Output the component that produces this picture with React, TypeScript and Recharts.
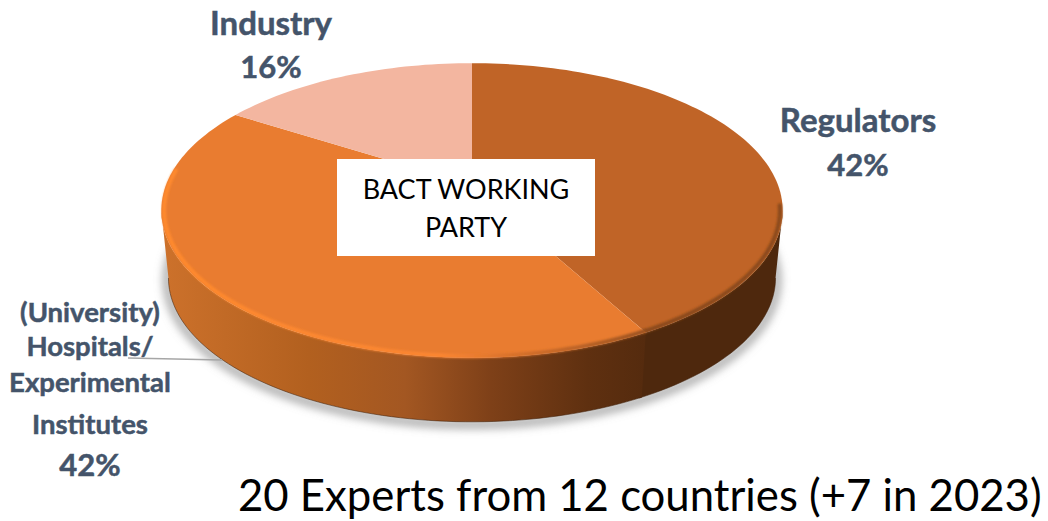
import React from "react";
import { PieChart, Pie } from "recharts";

// Membership of the working party, clockwise from twelve o'clock.
const categories = ["Regulators", "Hospitals", "Industry"];
const shares = [42, 42, 16];
const categoryLines = [
  ["Regulators"],
  ["(University)", "Hospitals/", "Experimental", "Institutes"],
  ["Industry"],
];
const topColors = ["#c06427", "#e97c30", "#f3b6a0"];
const centreLines = ["BACT WORKING", "PARTY"];
const footnote = "20 Experts from 12 countries (+7 in 2023)";

const WIDTH = 1048;
const HEIGHT = 521;
const FONT = "Lato, Carlito, sans-serif";
const LABEL_COLOR = "#44546a";

// Disc projection: a circle of radius R seen in perspective.
const CX = 472;
const CY = 185;
const RADIUS = 306;
const TILT = 0.467;
const PERSPECTIVE = 0.173;
const FLOOR_DROP = 68;
const FLOOR_SCALE = 0.977;
// The side wall runs between the points where the disc's outline is widest.
const WALL_FROM = 100;
const WALL_TO = 260;
const RIM_FROM = 98;
const RIM_TO = 276;
const SHADOW_FROM = 85;
const SHADOW_TO = 272;

type Pt = [number, number];

const project = (cx: number, cy: number, r: number, deg: number, scale = 1): Pt => {
  const t = (deg * Math.PI) / 180;
  const d = 1 + PERSPECTIVE * Math.cos(t);
  return [cx + (r * scale * Math.sin(t)) / d, cy - (r * TILT * scale * Math.cos(t)) / d];
};

const arc = (from: number, to: number, at: (deg: number) => Pt): Pt[] => {
  const n = Math.max(2, Math.ceil(Math.abs(to - from) / 1.5));
  return Array.from({ length: n + 1 }, (_, i) => at(from + ((to - from) * i) / n));
};

const toPath = (pts: Pt[], close = false) =>
  pts.map((p, i) => `${i ? "L" : "M"}${p[0].toFixed(2)} ${p[1].toFixed(2)}`).join(" ") + (close ? " Z" : "");

// Recharts measures angles anticlockwise from three o'clock; the projection runs clockwise from the top.
const clockwise = (angle: number) => 90 - angle;

const TopSlice = (props: any) => {
  const { cx, cy, outerRadius, startAngle, endAngle, fill, index } = props;
  const a = clockwise(startAngle);
  const b = clockwise(endAngle);
  const outline = [[cx, cy] as Pt, ...arc(a, b, (d) => project(cx, cy, outerRadius, d))];
  const from = Math.max(a, RIM_FROM);
  const to = Math.min(b, RIM_TO);
  const rim = to > from ? arc(from, to, (d) => project(cx, cy, outerRadius, d, 0.991)) : null;
  return (
    <g>
      <path d={toPath(outline, true)} fill={fill} />
      {rim && (
        <path
          d={toPath(rim)}
          fill="none"
          stroke={index === 0 ? "#8a4a1c" : "url(#rimLight)"}
          strokeWidth={4}
          strokeLinecap="round"
          filter="url(#soft)"
        />
      )}
    </g>
  );
};

const wallOutline = (cx: number, cy: number, r: number, a: number, b: number) => {
  const from = Math.max(a, WALL_FROM);
  const to = Math.min(b, WALL_TO);
  if (to <= from) return null;
  const upper = arc(from, to, (d) => project(cx, cy, r, d));
  const lower = arc(to, from, (d) => project(cx, cy + FLOOR_DROP, r, d, FLOOR_SCALE));
  return { upper, lower };
};

const WallSlice = (props: any) => {
  const { cx, cy, outerRadius, startAngle, endAngle, index } = props;
  // The first wall runs a touch under its neighbour so no hairline shows at the join.
  const overlap = index === 0 ? 0.5 : 0;
  const w = wallOutline(cx, cy, outerRadius, clockwise(startAngle), clockwise(endAngle) + overlap);
  // The ground shadow goes in once, behind every wall, along the floor edge.
  const shadow =
    index === 0
      ? arc(SHADOW_FROM, SHADOW_TO, (d) => project(cx, cy + FLOOR_DROP + 2, outerRadius, d, FLOOR_SCALE + 0.004))
      : null;
  return (
    <g>
      {shadow && (
        <path
          d={toPath(shadow)}
          fill="none"
          stroke="#8c8c8c"
          strokeWidth={9}
          strokeOpacity={0.7}
          filter="url(#shadowBlur)"
        />
      )}
      {w && (
        <>
          <path d={toPath([...w.upper, ...w.lower], true)} fill={index === 0 ? "#4e280d" : "url(#wallFront)"} />
          <path d={toPath(w.lower)} fill="none" stroke="#3f1f08" strokeWidth={1} strokeOpacity={0.55} />
        </>
      )}
    </g>
  );
};

// Where each category's label sits: centre x, then one baseline per line, then the percentage.
const labelSpots = [
  { x: 858, baselines: [132], percent: 176, size: 33 },
  { x: 90, baselines: [322, 356, 392, 434], percent: 476, size: 27.5 },
  { x: 271, baselines: [35], percent: 78, size: 33 },
];

const renderLabel = ({ index }: any) => {
  const spot = labelSpots[index];
  return (
    <g
      key={categories[index]}
      fontFamily={FONT}
      fontWeight={700}
      fill={LABEL_COLOR}
      stroke={LABEL_COLOR}
      strokeWidth={0.5}
      textAnchor="middle"
    >
      {categoryLines[index].map((line, i) => (
        <text key={line} x={spot.x} y={spot.baselines[i]} fontSize={spot.size}>
          {line}
        </text>
      ))}
      <text x={spot.x} y={spot.percent} fontSize={31}>{`${shares[index]}%`}</text>
    </g>
  );
};

const rows = categories.map((name, i) => ({ name, value: shares[i], fill: topColors[i] }));

const layer = {
  data: rows,
  dataKey: "value",
  nameKey: "name",
  cx: CX,
  cy: CY,
  outerRadius: RADIUS,
  startAngle: 90,
  endAngle: -270,
  stroke: "none",
  isAnimationActive: false,
};

export default function App() {
  return (
    <div style={{ position: "absolute", left: 0, top: 0, width: WIDTH, height: HEIGHT, background: "#fff" }}>
      <PieChart width={WIDTH} height={HEIGHT} margin={{ top: 0, right: 0, bottom: 0, left: 0 }}>
        <defs>
          <filter id="soft" filterUnits="userSpaceOnUse" x="100" y="0" width="760" height="460">
            <feGaussianBlur stdDeviation="1.3" />
          </filter>
          <filter id="shadowBlur" filterUnits="userSpaceOnUse" x="100" y="100" width="760" height="400">
            <feGaussianBlur stdDeviation="4" />
          </filter>
          <linearGradient id="wallFront" gradientUnits="userSpaceOnUse" x1="165" y1="0" x2="645" y2="0">
            <stop offset="0" stopColor="#cc712b" />
            <stop offset="0.3" stopColor="#b2601f" />
            <stop offset="0.5" stopColor="#a35722" />
            <stop offset="0.68" stopColor="#7e4018" />
            <stop offset="0.88" stopColor="#5f3010" />
            <stop offset="1" stopColor="#552b0e" />
          </linearGradient>
          <linearGradient id="rimLight" gradientUnits="userSpaceOnUse" x1="161" y1="0" x2="645" y2="0">
            <stop offset="0" stopColor="#ff8a2e" />
            <stop offset="0.58" stopColor="#fb8633" />
            <stop offset="0.72" stopColor="#d9722c" />
            <stop offset="1" stopColor="#9a5220" />
          </linearGradient>
        </defs>
        <Pie {...layer} shape={WallSlice} />
        <Pie {...layer} shape={TopSlice} label={renderLabel} labelLine={false} />
      </PieChart>
      <svg width={WIDTH} height={HEIGHT} style={{ position: "absolute", left: 0, top: 0 }}>
        <line x1={128} y1={358} x2={222} y2={360} stroke="#a6a6a6" strokeWidth={1.5} />
        <rect x={337} y={159} width={258} height={97} fill="#ffffff" />
        <g fontFamily={FONT} fontSize={27} fill="#000000" textAnchor="middle">
          <text x={466} y={199}>{centreLines[0]}</text>
          <text x={466} y={237}>{centreLines[1]}</text>
        </g>
        <text x={238} y={511} fontFamily={FONT} fontSize={43.7} fill="#000000">
          {footnote}
        </text>
      </svg>
    </div>
  );
}
